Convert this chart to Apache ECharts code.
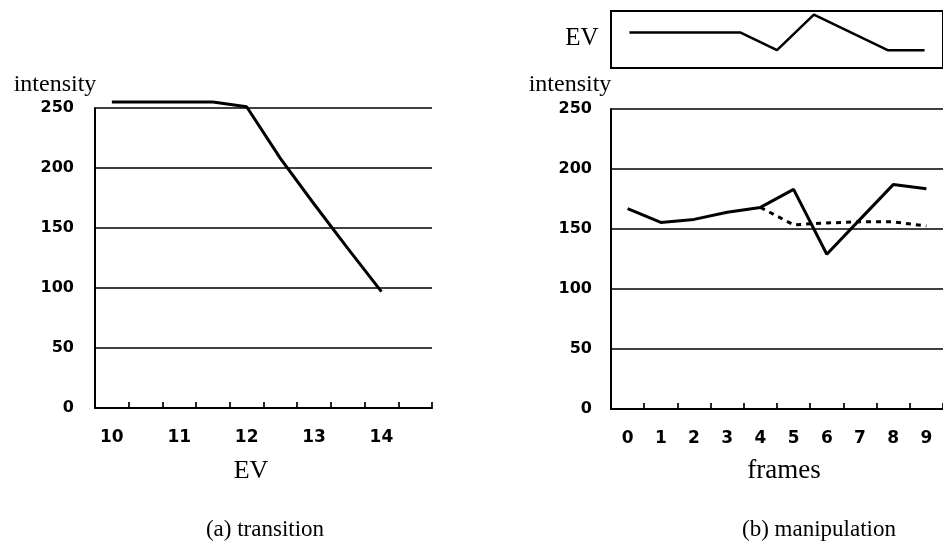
<!DOCTYPE html>
<html>
<head>
<meta charset="utf-8">
<script src="https://cdn.jsdelivr.net/npm/echarts@6/dist/echarts.min.js"></script>
<style>html,body{margin:0;padding:0;background:#fff}#c{width:943px;height:549px}</style>
</head>
<body>
<div id="c"></div>
<script>
// ---- data ----
const evCategories = ['10','10.5','11','11.5','12','12.5','13','13.5','14','14.5'];
const transitionIntensity = [255,255,255,255,251,208,170,133,97,null];
const frameCategories = ['0','1','2','3','4','5','6','7','8','9'];
const manipulatedIntensity = [167,155.5,158,164,168,183,129,158,187,183.5];
const correctedIntensity = [null,null,null,null,168,153.5,155,156,156,152.5];
const evFrameCategories = ['0','1','2','3','4','5','6','7','8'];
const evPerFrame = [12,12,12,12,11,13,12,11,11];
const intensityMin = 0, intensityMax = 250, intensityStep = 50;

// ---- styles ----
const black = '#000';
const tickFont = {fontFamily:'DejaVu Sans', fontWeight:'bold', fontSize:16, color:black};

function yAx(grid, margin){
  return {type:'value', gridIndex:grid, min:intensityMin, max:intensityMax, interval:intensityStep,
    axisLine:{show:true, lineStyle:{color:black, width:2}},
    axisTick:{show:false},
    axisLabel:Object.assign({margin:margin}, tickFont),
    splitLine:{show:true, lineStyle:{color:black, width:1.7}}};
}
function xAx(grid, cats, labelInterval){
  return {type:'category', gridIndex:grid, data:cats, boundaryGap:true,
    axisLine:{show:true, onZero:false, lineStyle:{color:black, width:2.2}},
    axisTick:{show:true, inside:true, length:6, interval:0, lineStyle:{color:black, width:1.7}},
    axisLabel:Object.assign({interval:labelInterval, margin:21}, tickFont, {fontSize:17}),
    splitLine:{show:false}};
}

const chart = echarts.init(document.getElementById('c'), null, {renderer:'canvas'});
chart.setOption({
  backgroundColor:'#fff',
  animation:false,
  grid:[
    {left:95, top:108, width:337, height:300},
    {left:611, top:109, width:338, height:300},
    {left:611, top:11, width:338, height:57, show:true, borderColor:black, borderWidth:2, backgroundColor:'transparent'}
  ],
  xAxis:[
    xAx(0, evCategories, 1),
    xAx(1, frameCategories, 0),
    {type:'category', gridIndex:2, data:evFrameCategories, boundaryGap:true,
     axisLine:{show:false}, axisTick:{show:false}, axisLabel:{show:false}, splitLine:{show:false}}
  ],
  yAxis:[
    yAx(0, 21),
    yAx(1, 19),
    {type:'value', gridIndex:2, min:10, max:13.2,
     axisLine:{show:false}, axisTick:{show:false}, axisLabel:{show:false}, splitLine:{show:false}}
  ],
  series:[
    {type:'line', xAxisIndex:0, yAxisIndex:0, data:transitionIntensity, showSymbol:false, symbol:'none', clip:false,
     lineStyle:{color:black, width:3}},
    {type:'line', xAxisIndex:1, yAxisIndex:1, data:manipulatedIntensity, showSymbol:false, symbol:'none', clip:false,
     lineStyle:{color:black, width:3}},
    {type:'line', xAxisIndex:1, yAxisIndex:1, data:correctedIntensity, showSymbol:false, symbol:'none', clip:false,
     lineStyle:{color:black, width:3, type:[5,5]}},
    {type:'line', xAxisIndex:2, yAxisIndex:2, data:evPerFrame, showSymbol:false, symbol:'none',
     lineStyle:{color:black, width:2.5}}
  ],
  graphic:[
    {type:'text', x:55, y:85, style:{text:'intensity', font:'24px "Liberation Serif"', fill:black, align:'center', verticalAlign:'middle'}},
    {type:'text', x:570, y:85, style:{text:'intensity', font:'24px "Liberation Serif"', fill:black, align:'center', verticalAlign:'middle'}},
    {type:'text', x:251, y:471, style:{text:'EV', font:'26px "Liberation Serif"', fill:black, align:'center', verticalAlign:'middle'}},
    {type:'text', x:784, y:471, style:{text:'frames', font:'27px "Liberation Serif"', fill:black, align:'center', verticalAlign:'middle'}},
    {type:'text', x:582, y:38, style:{text:'EV', font:'25px "Liberation Serif"', fill:black, align:'center', verticalAlign:'middle'}},
    {type:'text', x:265, y:530, style:{text:'(a) transition', font:'23px "Liberation Serif"', fill:black, align:'center', verticalAlign:'middle'}},
    {type:'text', x:819, y:530, style:{text:'(b) manipulation', font:'23px "Liberation Serif"', fill:black, align:'center', verticalAlign:'middle'}}
  ]
});
</script>
</body>
</html>
